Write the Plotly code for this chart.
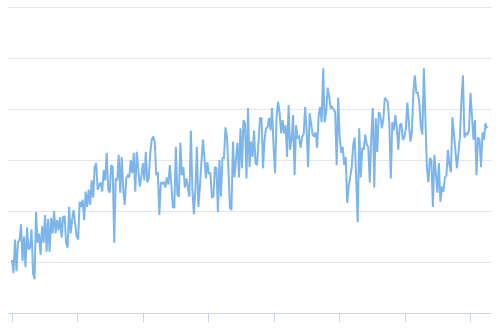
import plotly.graph_objects as go

values = [
    52, 39, 72, 41, 70, 71, 87, 51, 75, 45, 84, 62, 64, 82, 39, 33, 99, 69, 78, 57, 85, 69, 96, 60, 92, 60, 93, 78, 100, 78,
    91, 81, 94, 74, 94, 95, 69, 64, 104, 78, 91, 101, 88, 75, 72, 109, 104, 111, 91, 119, 104, 121, 106, 130, 113, 143, 147, 121, 125, 128, 119, 140, 130, 157, 121, 118, 145, 143, 69,
    132, 130, 155, 118, 153, 121, 106, 132, 135, 133, 150, 137, 157, 119, 158, 142, 124, 133, 147, 130, 158, 128, 132, 157, 170, 173, 167, 135, 138, 96, 128, 127, 128, 123, 133, 126, 145, 126, 104,
    103, 163, 116, 114, 167, 135, 143, 123, 132, 121, 114, 179, 121, 97, 121, 163, 104, 124, 143, 170, 153, 132, 148, 137, 137, 113, 114, 143, 142, 99, 150, 114, 152, 152, 182, 173, 140,
    103, 101, 168, 133, 147, 167, 133, 181, 142, 189, 186, 132, 201, 143, 168, 153, 179, 147, 145, 172, 191, 191, 142, 170, 181, 182, 191, 179, 201, 163, 137, 192, 207, 197, 176, 189, 176, 184, 153, 204, 160, 170,
    194, 135, 184, 172, 173, 162, 173, 175, 202, 179, 143, 196, 187, 175, 173, 177, 162, 194, 202, 187, 240, 187, 197, 221, 212, 201, 202, 199, 197, 145, 211, 172, 157, 163, 145, 153, 108, 124, 132, 143, 165, 172, 130,
    89, 181, 133, 162, 160, 175, 165, 163, 128, 172, 201, 123, 191, 158, 197, 194, 181, 189, 211, 209, 207, 187, 132, 187, 179, 194, 182, 160, 184, 186, 170, 172, 181, 206, 186, 168, 177, 216, 233, 216, 216, 206, 182, 175,
    240, 201, 143, 128, 152, 150, 104, 155, 137, 118, 147, 109, 124, 119, 133, 135, 160, 145, 138, 192, 176, 160, 142, 157, 173, 209, 233, 172, 176, 175, 179, 216, 196, 170, 189, 135, 172, 170, 143, 177, 170, 186, 181,
]
x_index = list(range(len(values)))
y_grid = [50, 100, 150, 200, 250, 300]

n = len(values)
px_per_step = 475.0 / (n - 1)
x_range = [-4.0 / px_per_step, (n - 1) + 5.0 / px_per_step]
tick_step = 65.5 / px_per_step

fig = go.Figure()
fig.add_trace(go.Scatter(
    x=x_index, y=values, mode="lines",
    line=dict(color="#7cb5ec", width=2),
    hoverinfo="skip",
))

fig.update_layout(
    width=500, height=333,
    margin=dict(l=8, r=8, t=6, b=20),
    paper_bgcolor="white", plot_bgcolor="white",
    showlegend=False,
    xaxis=dict(
        range=x_range, showgrid=False, zeroline=False,
        showline=True, linecolor="#ccd6eb", linewidth=1,
        ticks="outside", ticklen=8, tickcolor="#ccd6eb", tickwidth=1,
        tick0=0, dtick=tick_step, showticklabels=False,
    ),
    yaxis=dict(
        range=[0, 301], tickvals=y_grid, showticklabels=False,
        showgrid=True, gridcolor="#e6e6e6", gridwidth=1,
        zeroline=False, showline=False,
    ),
)

fig.write_html("out.html", config={"displayModeBar": False})
